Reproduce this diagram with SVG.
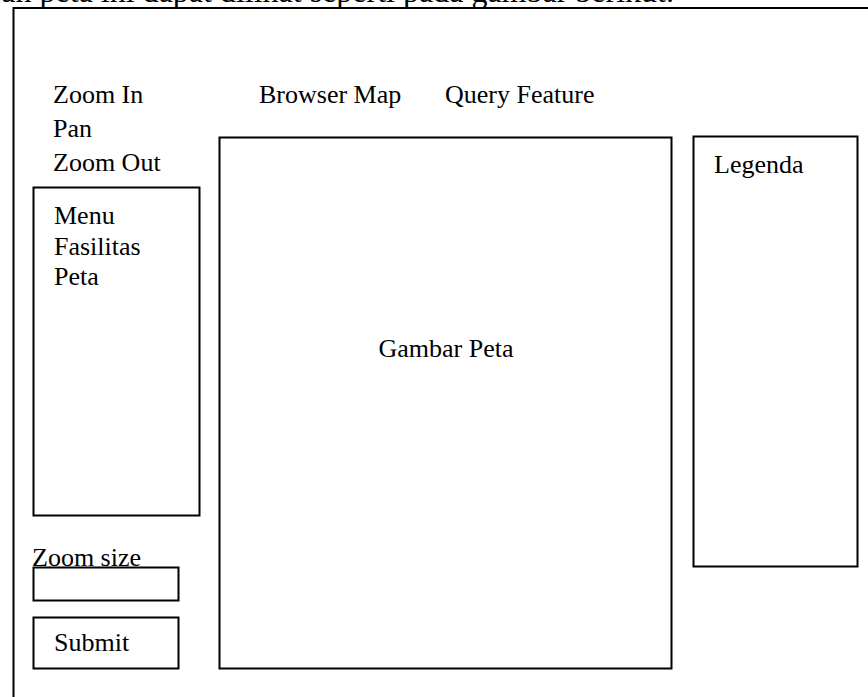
<svg xmlns="http://www.w3.org/2000/svg" width="868" height="697" viewBox="0 0 868 697">
<style>
text{font-family:"Liberation Serif","Times New Roman",serif;font-size:26px;fill:#000}
.box{fill:none;stroke:#000;stroke-width:2}
</style>
<rect width="868" height="697" fill="#fff"/>
<text x="674" y="2" text-anchor="end" style="font-size:32px">an peta ini dapat dilihat seperti pada gambar berikut.</text>
<g id="frame"><path class="box" d="M13.5 700 V8 H872"/></g>
<g id="toolbar">
<text x="53" y="103">Zoom In</text>
<text x="53" y="137">Pan</text>
<text x="53" y="171">Zoom Out</text>
<text x="259" y="103">Browser Map</text>
<text x="445" y="103">Query Feature</text>
</g>
<g id="menu">
<rect class="box" x="33.5" y="187.5" width="166" height="328"/>
<text x="54" y="224">Menu</text>
<text x="54" y="254.5">Fasilitas</text>
<text x="54" y="285">Peta</text>
</g>
<g id="map">
<rect class="box" x="219.5" y="137.5" width="452" height="531"/>
<text x="446" y="357" text-anchor="middle">Gambar Peta</text>
</g>
<g id="legend">
<rect class="box" x="693.5" y="136.5" width="164" height="430"/>
<text x="714" y="173">Legenda</text>
</g>
<g id="zoomsize">
<text x="32" y="566">Zoom size</text>
<rect class="box" x="33.5" y="567.5" width="145" height="33"/>
</g>
<g id="submit">
<rect class="box" x="33.5" y="617.5" width="145" height="51"/>
<text x="54" y="651">Submit</text>
</g>
<g id="connectors"/>
</svg>
